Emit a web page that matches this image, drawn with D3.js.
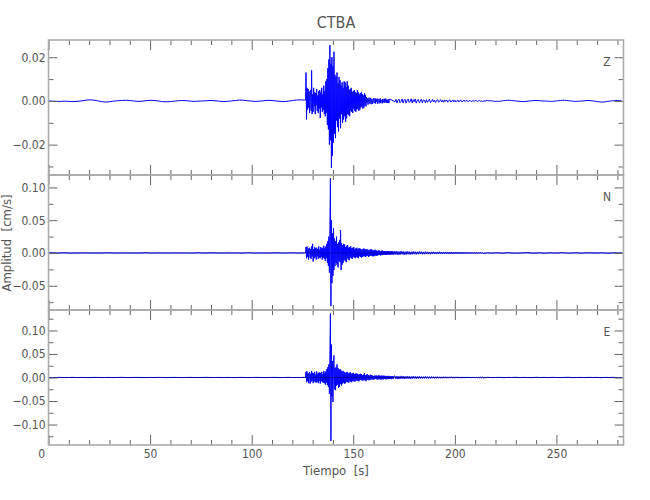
<!DOCTYPE html>
<html><head><meta charset="utf-8">
<script src="https://cdn.jsdelivr.net/npm/d3@7"></script>
<style>
body{margin:0;background:#fff}
text{font-family:"Liberation Sans Narrow","Arial Narrow","DejaVu Sans Condensed",sans-serif;fill:#555}
</style>
</head><body><svg id="c" width="650" height="500"></svg>
<script>
// ---------- DATA ----------
const title = "CTBA";
const components = ["Z", "N", "E"];
const xTickLabels = [0, 50, 100, 150, 200, 250];

// Z component, units of 1e-4 cm/s
const zUnit = 1e-4;
const zPre = [0,-1,-2,-2,-1,-2,-3,-2,0,3,5,4,1,-3,-5,-4,-1,1,2,3,2,0,-2,-1,1,3,2,0,-3,-4,-3,-1,1,2,1,-1,-2,-1,0,1,2,1,-1,-3,-2,0,2,4,3,1,-1,-2,-1,1,3,2,0,-2,-3,-1,2,4,5,4]; // t = 0..126, step 2
const zEvent = [4,130,-85,60,-40,55,-30,45,-55,20,50,-45,140,-60,30,-50,60,-25,40,-60,35,-20,55,-45,25,-55,45,-35,50,-78,40,-30,60,-50,30,-40,70,-60,45,-70,90,-55,100,-110,150,-130,190,-200,255,-180,170,-306,200,-250,160,-190,225,-150,120,-170,110,-90,130,-120,80,-140,110,-80,95,-125,70,-60,85,-100,60,-85,90,-70,85,-95,65,-80,90,-60,70,-65,50,-70,55,-45,60,-50,40,-55,45,-35,50,-45,40,-50,35,-40,50,-35,40,-45,30,-40,35,-30,40,-25,30,-35,25,-30,35,-20,28,-25,18,-6,12,-17,4,15,-12,-2,14,-15,8,10,-14,3,12,-10,-4,13,-12,7,-3,11,-13,5,9,-11,0,12,-10,6,2,-11,9,-7,3,10,-9,-4,11,-8,5,-9,4,8,-10,1,9]; // t = 126.5.., step 0.25
const zTail = [-4,7,-9,3,8,-8,-2,9,-9,4,7,-10,2,9,-7,-2,10,-9,6,-4,9,-10,3,7,-8,-2,8,-9,5,3,-8,6,-6,1,8,-7,-3,7,-5,4,-7,2,6,-6,-1,6,-5,3,-6,5,-2,4,-6,2,5,-5,-1,5,-4,3,-5,1,4,-5,2,3,-4,-1,4,-3,2,3,-4,1,3,-3,-1,3,-3,2,2,-3,0,3,-2,1,-2]; // step 0.5
const zPost = [2,0,1,-1,-2,-1,-2,0,1,2,3,3,2,1,0,-1,-2,-3,-3,-2,-1,0,1,2,2,2,1,0,0,-1,-1,-2,-2,-1,0,1,2,3,3,2,1,0,-1,-2,-2,-1,-1,0,1,2,2,1,0,-1,-3,-4,-5,-5,-4,-2,-1,0,1,2,2,1,1]; // t = 216.., step 1

// N component, units of 1e-3 cm/s
const nUnit = 1e-3;
const nPre = [0,0.2,-0.1,0.1,0.3,0,-0.2,0.1,0,0.2,-0.1,0,0.1,-0.2,0.3,0.1,0,-0.1,0.2,0,0.1,-0.2,0,0.1,0.3,-0.1,0,0.2,0.1,-0.1,0,0.2,-0.1,0.1,0,-0.2,0.1,0.3,0,-0.1,0.2,0.1,0,-0.1,0.2,0,0.1,-0.2,0,0.3,0.1,-0.1,0.2,0,-0.1,0.1,0.2,0,-0.2,0.1,0.2,-0.1,0,0.3];
const nEvent = [0.3,9,-8,10,-6,7,-10,5,8,-7,6,-9,10,-5,14,-13,6,-8,9,-6,7,-10,8,-5,6,-9,10,-7,5,-8,9,-6,7,-10,8,-7,11,-9,7,-12,10,-8,14,-15,18,-20,25,-30,40,114,-81,50,-46,30,-35,38,-26,22,-20,18,-15,25,-18,14,-22,16,-12,20,-14,35,-26,15,-18,12,-15,14,-10,13,-12,9,-14,11,-8,12,-10,8,-11,9,-7,10,-8,7,-9,8,-6,9,-7,6,-8,7,-6,8,-7,6,-8,7,-5,7,-6,6,-7,5,-6,6,-5,7,-5,6,-6,5,-5,6,-4,5,-6,4,-5,5,-4,6,-4,5,-5,4,-5,4,-4,5,-4,4,-4,3,-4,4,-3,4,-3,3,-4,3,-3,4,-3,3,-3,3,-2.5,3,-3,2.5,-3,2.5,-2.5,3,-2.5,2.5,-3,2.5,-2.5,2.5,-2,2.5,-2.5,2,-2.5];
const nTail = [3,-2.5,2.8,-3,2.2,-2.6,3,-2,2.4,-2.8,2,-2.5,2.6,-2,2.2,-2.4,1.8,-2.2,2.4,-1.8,2,-2.2,1.8,-2,2.2,-1.6,2,-2,1.6,-1.9,2,-1.6,1.8,-1.8,1.5,-1.9,1.7,-1.5,1.8,-1.6,1.5,-1.7,1.6,-1.4,1.7,-1.5,1.4,-1.6,1.5,-1.3,1.6,-1.4,1.3,-1.5,1.4,-1.2,1.5,-1.3,1.2,-1.4,1.3,-1.2,1.4,-1.1,1.2,-1.3,1.1,-1.2,1.3,-1,1.1,-1.2,1,-1.1,1.2,-1,1,-1.1,1.1,-0.9,1,-1,0.9,-1,1,-0.9,0.9,-1];
const nPost = [0.2,-0.4,0.3,0,-0.3,0.4,0.1,-0.3,0,0.2,0.4,-0.2,0,0.3,-0.4,0.2,0,-0.2,0.4,0.1,-0.3,0,0.3,-0.4,0.2,0,0.2,-0.2,0.3,0,-0.3,0.2,0,0.1];

// E component, units of 1e-3 cm/s
const eUnit = 1e-3;
const ePre = [0,-0.2,0.1,0.2,-0.1,0,0.3,-0.1,0.1,0,-0.2,0.2,0.1,-0.1,0,0.2,-0.2,0.1,0.3,0,-0.1,0.1,0.2,-0.2,0,0.1,-0.1,0.2,0,-0.3,0.1,0.2,0,-0.1,0.1,0.2,-0.2,0,0.1,0.3,-0.1,0,0.2,-0.1,0.1,0,-0.2,0.2,0.1,-0.1,0,0.2,0.1,-0.2,0,0.1,0.2,-0.1,0,0.3,-0.1,0.1,0,0.4];
const eEvent = [0.5,12,-10,13,-8,9,-12,7,11,-13,8,-9,14,-7,10,-12,9,-8,12,-10,6,-11,13,-9,8,-12,10,-7,11,-13,9,-8,12,-10,7,-11,14,-12,10,-15,13,-11,18,-16,22,-20,28,-35,50,136,-135,70,-40,35,-52,30,47,-25,20,-27,22,-18,28,-15,20,-22,16,-20,18,-14,15,-17,12,-13,14,-11,12,-13,10,-12,11,-9,12,-10,9,-11,10,-8,11,-9,8,-10,9,-7,10,-8,7,-9,8,-7,9,-6,8,-7,6,-8,7,-6,8,-5,7,-6,5,-7,6,-5,9,-6,5,-8,6,-5,7,-4,5,-6,4,-5,6,-4,5,-4,4,-5,3,-4,4,-3,4,-3,4,-4.5,3.5,-4,4.5,-3.5,4,-4,3.5,-4.5,4,-3.5,3.5,-4,4,-3,3.5,-3.5,3,-4,3.5,-3,3,-3.5,3.5,-3,3,-3,2.5,-3.5,3,-2.5,3,-3,2.5];
const eTail = [3.5,-3,3.2,-3.5,2.6,-3.2,3.4,-2.6,3,-3.2,2.4,-2.8,3,-2.4,2.6,-3,2.2,-2.6,2.8,-2.2,2.4,-2.6,2,-2.4,2.6,-2,2.2,-2.4,1.8,-2.2,2.4,-1.8,2,-2.2,1.8,-2,2,-1.6,1.8,-2,1.6,-1.8,1.8,-1.6,1.6,-1.8,1.4,-1.6,1.7,-1.4,1.6,-1.6,1.4,-1.5,1.6,-1.3,1.5,-1.5,1.3,-1.5,1.4,-1.2,1.4,-1.4,1.2,-1.4,1.3,-1.2,1.2,-1.3,1.2,-1.1,1.3,-1.2,1.1,-1.2,1.2,-1.1,1.1,-1.2,1,-1.1,1.1,-1,1,-1.1,1,-1];
const ePost = [0.4,-0.2,0,0.3,-0.4,0.2,0,0.4,-0.2,0.2,0,-0.3,0.4,0,0.2,-0.2,0.3,0,-0.2,0.2,0.4,-0.3,0,0.2,-0.2,0.3,0,0.2,-0.4,0.2,0,0.3,-0.2,0];

// sampling of the segments: [start time, step in s] for pre, event, tail, post
const zTiming = [[0, 2], [126.5, 0.25], [170.5, 0.5], [216, 1]];
const neTiming = [[0, 2], [126.5, 0.25], [170.5, 0.5], [216, 2]];

// ---------- CHART ----------
const svg = d3.select("#c");
const L = 48.5, R = 623.5;
const x = d3.scaleLinear().domain([0, 283]).range([L, R]);

const panels = [
  {top: 40, bottom: 175, domain: [-0.0339, 0.0279], major: [-0.02, 0, 0.02], minor: [-0.03, -0.01, 0.01],
   unit: zUnit, segs: [zPre, zEvent, zTail, zPost], timing: zTiming, zero: false},
  {top: 175, bottom: 310, domain: [-0.087, 0.119], major: [-0.05, 0, 0.05, 0.10], minor: [-0.075, -0.025, 0.025, 0.075],
   unit: nUnit, segs: [nPre, nEvent, nTail, nPost], timing: neTiming, zero: true},
  {top: 310, bottom: 445, domain: [-0.1435, 0.1435], major: [-0.10, -0.05, 0, 0.05, 0.10], minor: [-0.125, -0.075, -0.025, 0.025, 0.075, 0.125],
   unit: eUnit, segs: [ePre, eEvent, eTail, ePost], timing: neTiming, zero: true}
];

const xMinor = d3.range(0, 283, 10).filter(v => v % 50 !== 0);
const fmt = d3.format(".2f");
const tickCol = "#666", frameCol = "#ababab";

panels.forEach((p, pi) => {
  const y = d3.scaleLinear().domain(p.domain).range([p.bottom, p.top]);
  const data = [];
  let prevEnd = -Infinity;
  p.segs.forEach((vals, si) => {
    let [t0, dt] = p.timing[si];
    if (t0 <= prevEnd) t0 = prevEnd + dt;
    vals.forEach((v, i) => data.push({t: t0 + dt * i, v: v * p.unit}));
    prevEnd = t0 + dt * (vals.length - 1);
  });
  const clipId = "clip" + pi;
  svg.append("clipPath").attr("id", clipId).append("rect")
    .attr("x", L).attr("y", p.top).attr("width", R - L).attr("height", p.bottom - p.top);

  const g = svg.append("g");
  g.append("path").datum(data)
    .attr("clip-path", `url(#${clipId})`)
    .attr("fill", "none").attr("stroke", "#0000ff").attr("stroke-width", 1)
    .attr("stroke-linejoin", "round")
    .attr("d", d3.line().x(d => x(d.t)).y(d => y(d.v)));
  if (p.zero) {
    g.append("line").attr("x1", L).attr("x2", R).attr("y1", y(0)).attr("y2", y(0))
      .attr("stroke", "#000080").attr("stroke-width", 1).attr("opacity", 0.6);
  }

  const addAxis = (axis, tr) => {
    const a = svg.append("g").attr("transform", tr).call(axis);
    a.select(".domain").remove();
    a.selectAll(".tick line").attr("stroke", tickCol);
    a.selectAll("text").style("font-size", "12px").attr("fill", "#555");
    return a;
  };
  const bx = addAxis(d3.axisBottom(x).tickValues(xTickLabels).tickSizeInner(-10).tickSizeOuter(0)
      .tickFormat(pi === 2 ? d3.format("d") : ""), `translate(0,${p.bottom})`);
  bx.selectAll("text").attr("dy", "0.71em").attr("y", 4);
  bx.selectAll(".tick").filter(d => d === 0).select("text").attr("text-anchor", "end").attr("x", -4);
  addAxis(d3.axisBottom(x).tickValues(xMinor).tickSizeInner(-5).tickSizeOuter(0).tickFormat(""), `translate(0,${p.bottom})`);
  addAxis(d3.axisTop(x).tickValues(xTickLabels).tickSizeInner(-10).tickSizeOuter(0).tickFormat(""), `translate(0,${p.top})`);
  addAxis(d3.axisTop(x).tickValues(xMinor).tickSizeInner(-5).tickSizeOuter(0).tickFormat(""), `translate(0,${p.top})`);
  const ly = addAxis(d3.axisLeft(y).tickValues(p.major).tickSizeInner(-9).tickSizeOuter(0).tickFormat(fmt), `translate(${L},0)`);
  ly.selectAll("text").attr("x", -3);
  addAxis(d3.axisLeft(y).tickValues(p.minor).tickSizeInner(-5).tickSizeOuter(0).tickFormat(""), `translate(${L},0)`);
  addAxis(d3.axisRight(y).tickValues(p.major).tickSizeInner(-9).tickSizeOuter(0).tickFormat(""), `translate(${R},0)`);
  addAxis(d3.axisRight(y).tickValues(p.minor).tickSizeInner(-5).tickSizeOuter(0).tickFormat(""), `translate(${R},0)`);

  svg.append("rect").attr("x", L).attr("y", p.top).attr("width", R - L).attr("height", p.bottom - p.top)
    .attr("fill", "none").attr("stroke", frameCol).attr("stroke-width", 1.6);

  svg.append("text").attr("x", 607).attr("y", p.top + 26).attr("text-anchor", "middle")
    .style("font-size", "12px").text(components[pi]);
});

svg.append("text").attr("x", (L + R) / 2).attr("y", 28).attr("text-anchor", "middle")
  .style("font-size", "16px").text(title);
svg.append("text").attr("x", (L + R) / 2).attr("y", 475).attr("text-anchor", "middle")
  .style("font-size", "13px").style("white-space", "pre").text("Tiempo  [s]");
svg.append("text").attr("transform", "translate(11,243) rotate(-90)").attr("text-anchor", "middle")
  .style("font-size", "13px").style("white-space", "pre").text("Amplitud  [cm/s]");
</script>
</body></html>
